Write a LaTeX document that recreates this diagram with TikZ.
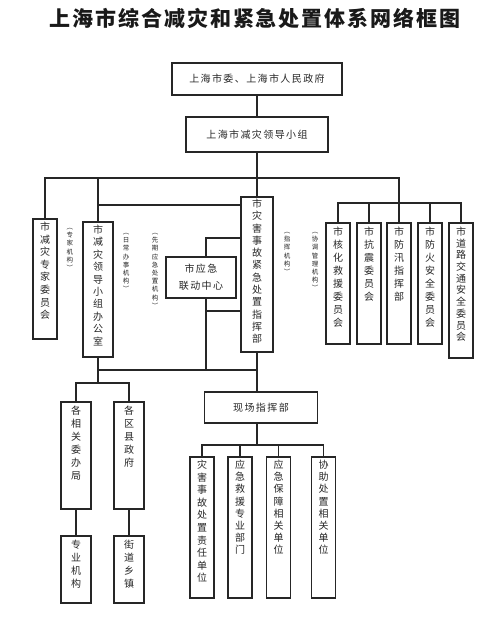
\documentclass[tikz,border=0pt]{standalone}
\usepackage{fontspec}
\setmainfont{Noto Sans CJK SC}

% one character per line
\makeatletter
\def\stackchars#1{\lineskiplimit=-\maxdimen\stackchars@#1\@nil}
\def\stackchars@#1#2\@nil{#1\ifx\relax#2\relax\else\\\stackchars@#2\@nil\fi}
\makeatother
\newcommand\boxchars[3][13]{\parbox[c][#2pt][t]{1em}{\fontsize{10}{#1}\selectfont\centering\stackchars{#3}}}

\tikzset{
  vbox/.style={draw=black!85, line width=1.4pt, inner xsep=0pt, inner ysep=4pt,
    minimum width=24pt, text=black!85, font=\fontsize{10}{13}\selectfont},
  hbox/.style={draw=black!85, line width=1.4pt, inner sep=0pt, text=black!85,
    font=\fontsize{10}{12}\selectfont\addfontfeature{LetterSpace=14}},
  note/.style={inner sep=0pt, anchor=north, align=center, text=black!85,
    font=\fontsize{6.5}{8.2}\selectfont},
  link/.style={draw=black!85, line width=1.1pt},
}

\begin{document}
\begin{tikzpicture}[x=1pt,y=-1pt]
  \useasboundingbox (0,0) rectangle (500,622);
  \node[text=black!90, font=\fontsize{21}{25}\selectfont\bfseries\addfontfeature{LetterSpace=9}] (title) at (255,18) {上海市综合减灾和紧急处置体系网络框图};

  % top
  \node[hbox, minimum width=170pt, minimum height=32pt] (gov) at (257,79) {上海市委、上海市人民政府};
  \node[hbox, minimum width=142pt, minimum height=35pt] (ldxz) at (257,134.5) {上海市减灾领导小组};

  % second level
  \node[vbox, inner ysep=3pt] (zj) at (45,279) {\boxchars[12.6]{114}{市减灾专家委员会}};
  \node[vbox, minimum width=30pt, inner ysep=3pt] (bgs) at (98,289.5) {\boxchars[12.4]{129}{市减灾领导小组办公室}};
  \node[vbox, minimum width=32pt, inner ysep=2pt] (zhb) at (257,274.5) {\boxchars[12.3]{151}{市灾害事故紧急处置指挥部}};
  \node[hbox, minimum width=70pt, minimum height=41pt, align=center,
    font=\fontsize{10}{17}\selectfont\addfontfeature{LetterSpace=14}] (ldzx) at (201,277.5) {市应急\\联动中心};
  \node[vbox] (hh) at (338,283.5) {\boxchars{113}{市核化救援委员会}};
  \node[vbox] (kz) at (369,283.5) {\boxchars{113}{市抗震委员会}};
  \node[vbox] (fx) at (399,283.5) {\boxchars{113}{市防汛指挥部}};
  \node[vbox] (fh) at (430,283.5) {\boxchars{113}{市防火安全委员会}};
  \node[vbox] (dl) at (461,290.5) {\boxchars[11.7]{127}{市道路交通安全委员会}};

  % notes
  \node[note] (n1) at (70,228) {\stackchars{︵专家机构︶}};
  \node[note] (n2) at (126,233) {\stackchars{︵日常办事机构︶}};
  \node[note] (n3) at (155,233) {\stackchars{︵先期应急处置机构︶}};
  \node[note] (n4) at (287,232) {\stackchars{︵指挥机构︶}};
  \node[note] (n5) at (315,232) {\stackchars{︵协调管理机构︶}};

  % lower left
  \node[vbox, minimum width=30pt] (xg) at (76,455.5) {\boxchars{99}{各相关委办局}};
  \node[vbox, minimum width=30pt] (qx) at (129,455.5) {\boxchars{99}{各区县政府}};
  \node[vbox, minimum width=30pt] (zy) at (76,569.5) {\boxchars{59}{专业机构}};
  \node[vbox, minimum width=30pt] (jd) at (129,569.5) {\boxchars{59}{街道乡镇}};

  % lower middle
  \node[hbox, minimum width=113pt, minimum height=31pt] (xc) at (261,407.5) {现场指挥部};
  \node[vbox, inner ysep=3pt] (zr) at (202,527.5) {\boxchars[12.6]{135}{灾害事故处置责任单位}};
  \node[vbox, inner ysep=3pt] (jy) at (240,527.5) {\boxchars[12.2]{135}{应急救援专业部门}};
  \node[vbox, inner ysep=3pt] (bz) at (278.5,527.5) {\boxchars[12.2]{135}{应急保障相关单位}};
  \node[vbox, inner ysep=3pt] (xz) at (323.5,527.5) {\boxchars[12.2]{135}{协助处置相关单位}};

  % connectors
  \draw[link] (gov) -- (ldxz);
  \draw[link] (ldxz) -- (zhb);
  \draw[link] (zj.north) |- (zhb.north |- 0,178) -| (fx.north);
  \draw[link] (bgs.north) -- (bgs.north |- 0,178);
  \draw[link] (bgs.north |- 0,205) -- (zhb.west |- 0,205);
  \foreach \n in {hh,kz,fh,dl}
    \draw[link] (\n.north) |- (fx.north |- 0,203);

  \coordinate (lk) at (206,238);
  \draw[link] (zhb.west |- lk) -- (lk) -- (lk |- ldzx.north);
  \draw[link] (lk |- ldzx.south) -- (lk |- 0,370);
  \draw[link] (lk |- 0,311) -- (zhb.west |- 0,311);
  \draw[link] (bgs.south |- 0,370) -- (zhb.south |- 0,370);

  \draw[link] (bgs.south) -- (bgs.south |- 0,383);
  \draw[link] (xg.north) |- (bgs.south |- 0,383) -| (qx.north);
  \draw[link] (xg) -- (zy);
  \draw[link] (qx) -- (jd);

  \draw[link] (zhb.south) -- (zhb.south |- xc.north);
  \draw[link] (zhb.south |- xc.south) -- (zhb.south |- 0,445);
  \foreach \n in {zr,jy,bz,xz}
    \draw[link] (\n.north) |- (zhb.south |- 0,445);
\end{tikzpicture}
\end{document}
